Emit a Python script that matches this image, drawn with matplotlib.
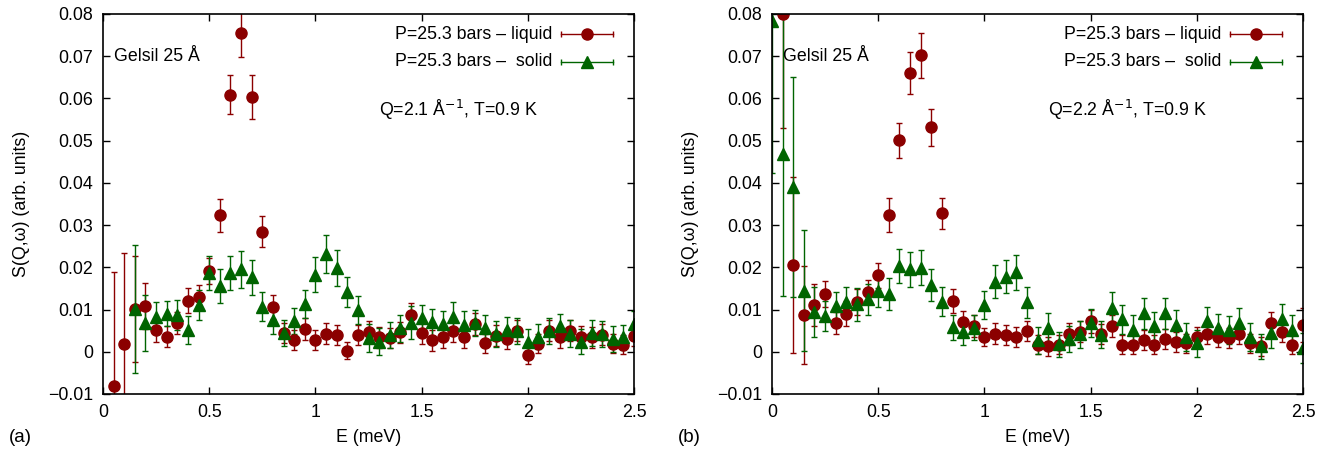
import matplotlib

matplotlib.use("Agg")
import matplotlib.pyplot as plt  # noqa: E402

plt.rcParams["font.family"] = ["Liberation Sans", "DejaVu Sans"]

RED = "#8b0000"
GREEN = "#006400"
FS = 12.8

# ---- data ----------------------------------------------------------------
# panel (a): Q = 2.1 1/A
E_liq_a = [0.05, 0.10, 0.15, 0.20, 0.25, 0.30, 0.35, 0.40, 0.45, 0.50,
           0.55, 0.60, 0.65, 0.70, 0.75, 0.80, 0.85, 0.90, 0.95, 1.00,
           1.05, 1.10, 1.15, 1.20, 1.25, 1.30, 1.35, 1.40, 1.45, 1.50,
           1.55, 1.60, 1.65, 1.70, 1.75, 1.80, 1.85, 1.90, 1.95, 2.00,
           2.05, 2.10, 2.15, 2.20, 2.25, 2.30, 2.35, 2.40, 2.45, 2.50]
S_liq_a = [-0.0082, 0.0019, 0.0101, 0.0109, 0.0052, 0.0036, 0.0069, 0.0121, 0.0130, 0.0191,
           0.0323, 0.0609, 0.0754, 0.0603, 0.0284, 0.0106, 0.0044, 0.0028, 0.0054, 0.0028,
           0.0043, 0.0040, 0.0003, 0.0039, 0.0048, 0.0034, 0.0032, 0.0046, 0.0087, 0.0044,
           0.0027, 0.0035, 0.0050, 0.0034, 0.0065, 0.0020, 0.0038, 0.0030, 0.0050, -0.0007,
           0.0019, 0.0050, 0.0034, 0.0050, 0.0036, 0.0034, 0.0040, 0.0019, 0.0017, 0.0038]
dS_liq_a = [0.0270, 0.0216, 0.0125, 0.0054, 0.0028, 0.0024, 0.0026, 0.0030, 0.0027, 0.0030,
            0.0040, 0.0047, 0.0057, 0.0052, 0.0037, 0.0028, 0.0024, 0.0024, 0.0026, 0.0023,
            0.0024, 0.0024, 0.0019, 0.0024, 0.0025, 0.0024, 0.0024, 0.0025, 0.0029, 0.0025,
            0.0024, 0.0025, 0.0026, 0.0024, 0.0026, 0.0023, 0.0025, 0.0024, 0.0025, 0.0022,
            0.0023, 0.0025, 0.0024, 0.0025, 0.0024, 0.0024, 0.0025, 0.0022, 0.0022, 0.0024]

E_sol_a = [0.15, 0.20, 0.25, 0.30, 0.35, 0.40, 0.45, 0.50, 0.55, 0.60,
           0.65, 0.70, 0.75, 0.80, 0.85, 0.90, 0.95, 1.00, 1.05, 1.10,
           1.15, 1.20, 1.25, 1.30, 1.35, 1.40, 1.45, 1.50, 1.55, 1.60,
           1.65, 1.70, 1.75, 1.80, 1.85, 1.90, 1.95, 2.00, 2.05, 2.10,
           2.15, 2.20, 2.25, 2.30, 2.35, 2.40, 2.45, 2.50]
S_sol_a = [0.0101, 0.0068, 0.0083, 0.0090, 0.0087, 0.0052, 0.0111, 0.0187, 0.0156, 0.0187,
           0.0195, 0.0176, 0.0107, 0.0076, 0.0044, 0.0072, 0.0113, 0.0183, 0.0231, 0.0199,
           0.0141, 0.0099, 0.0032, 0.0024, 0.0040, 0.0056, 0.0069, 0.0080, 0.0070, 0.0065,
           0.0083, 0.0064, 0.0069, 0.0057, 0.0042, 0.0052, 0.0050, 0.0023, 0.0036, 0.0050,
           0.0060, 0.0043, 0.0024, 0.0044, 0.0042, 0.0030, 0.0034, 0.0065]
dS_sol_a = [0.0152, 0.0066, 0.0036, 0.0030, 0.0035, 0.0033, 0.0035, 0.0040, 0.0040, 0.0040,
            0.0043, 0.0042, 0.0035, 0.0033, 0.0031, 0.0031, 0.0033, 0.0041, 0.0045, 0.0043,
            0.0035, 0.0034, 0.0033, 0.0032, 0.0031, 0.0032, 0.0039, 0.0031, 0.0032, 0.0032,
            0.0034, 0.0032, 0.0031, 0.0031, 0.0031, 0.0031, 0.0031, 0.0030, 0.0030, 0.0031,
            0.0030, 0.0032, 0.0030, 0.0031, 0.0030, 0.0030, 0.0030, 0.0031]

# panel (b): Q = 2.2 1/A
E_liq_b = E_liq_a
S_liq_b = [0.0799, 0.0206, 0.0086, 0.0111, 0.0137, 0.0068, 0.0090, 0.0117, 0.0141, 0.0181,
           0.0324, 0.0501, 0.0660, 0.0702, 0.0532, 0.0328, 0.0120, 0.0070, 0.0061, 0.0035,
           0.0043, 0.0040, 0.0035, 0.0050, 0.0017, 0.0013, 0.0017, 0.0042, 0.0048, 0.0072,
           0.0042, 0.0061, 0.0017, 0.0017, 0.0028, 0.0017, 0.0030, 0.0023, 0.0020, 0.0035,
           0.0042, 0.0035, 0.0032, 0.0042, 0.0020, 0.0013, 0.0068, 0.0048, 0.0017, 0.0064]
dS_liq_b = [0.0270, 0.0208, 0.0116, 0.0050, 0.0031, 0.0026, 0.0030, 0.0031, 0.0028, 0.0030,
            0.0040, 0.0042, 0.0050, 0.0053, 0.0044, 0.0037, 0.0028, 0.0026, 0.0026, 0.0022,
            0.0024, 0.0024, 0.0023, 0.0024, 0.0023, 0.0023, 0.0023, 0.0025, 0.0025, 0.0027,
            0.0024, 0.0025, 0.0023, 0.0023, 0.0024, 0.0023, 0.0024, 0.0023, 0.0023, 0.0024,
            0.0024, 0.0024, 0.0024, 0.0024, 0.0023, 0.0023, 0.0026, 0.0025, 0.0023, 0.0040]

E_sol_b = [0.00] + E_liq_a
S_sol_b = [0.0784, 0.0468, 0.0390, 0.0145, 0.0095, 0.0085, 0.0109, 0.0118, 0.0113, 0.0124,
           0.0144, 0.0137, 0.0203, 0.0195, 0.0199, 0.0158, 0.0119, 0.0058, 0.0046, 0.0057,
           0.0111, 0.0166, 0.0178, 0.0188, 0.0117, 0.0027, 0.0057, 0.0018, 0.0031, 0.0042,
           0.0068, 0.0040, 0.0103, 0.0077, 0.0052, 0.0091, 0.0060, 0.0091, 0.0064, 0.0036,
           0.0020, 0.0072, 0.0056, 0.0052, 0.0069, 0.0035, 0.0013, 0.0044, 0.0077, 0.0052,
           0.0009]
dS_sol_b = [0.0360, 0.0336, 0.0260, 0.0143, 0.0059, 0.0036, 0.0033, 0.0036, 0.0039, 0.0037,
            0.0037, 0.0037, 0.0040, 0.0041, 0.0041, 0.0038, 0.0034, 0.0030, 0.0030, 0.0030,
            0.0033, 0.0039, 0.0039, 0.0041, 0.0036, 0.0032, 0.0034, 0.0030, 0.0031, 0.0032,
            0.0033, 0.0032, 0.0038, 0.0034, 0.0034, 0.0036, 0.0034, 0.0036, 0.0035, 0.0033,
            0.0032, 0.0034, 0.0033, 0.0033, 0.0034, 0.0032, 0.0030, 0.0034, 0.0037, 0.0035,
            0.0035]

LABELS = ["P=25.3 bars \u2013 liquid", "P=25.3 bars \u2013  solid"]
XTICKS = [0, 0.5, 1, 1.5, 2, 2.5]
YTICKS = [-0.01, 0, 0.01, 0.02, 0.03, 0.04, 0.05, 0.06, 0.07, 0.08]

PANELS = [
    ("(a)", "Q=2.1 \u00c5$^{-1}$, T=0.9 K", (E_liq_a, S_liq_a, dS_liq_a), (E_sol_a, S_sol_a, dS_sol_a)),
    ("(b)", "Q=2.2 \u00c5$^{-1}$, T=0.9 K", (E_liq_b, S_liq_b, dS_liq_b), (E_sol_b, S_sol_b, dS_sol_b)),
]


def legend_row(ax, y, label, color, marker):
    ax.text(0.846, y, label, transform=ax.transAxes, ha="right", va="center", fontsize=FS)
    ax.plot([0.862, 0.960], [y, y], color=color, lw=1.0, transform=ax.transAxes, clip_on=False)
    ax.plot([0.862, 0.960], [y, y], ls="none", marker="|", ms=5, mew=1.0, color=color,
            transform=ax.transAxes, clip_on=False)
    ax.plot([0.911], [y], ls="none", marker=marker, ms=8, color=color,
            transform=ax.transAxes, clip_on=False)


def fmt(v):
    return "0" if abs(v) < 1e-12 else ("%g" % v).replace("-", "\u2212")


def main():
    fig = plt.figure(figsize=(13.31, 4.55), dpi=100)
    W, H = 1331, 455
    lefts = [103, 772]
    for (tag, qtext, liq, sol), x0 in zip(PANELS, lefts):
        ax = fig.add_axes([x0 / W, 1 - 394 / H, 531 / W, 380 / H])
        ax.errorbar(*liq[:2], yerr=liq[2], fmt="o", ms=8, color=RED, ecolor=RED,
                    elinewidth=1.0, capsize=2.2, capthick=1.0)
        ax.errorbar(*sol[:2], yerr=sol[2], fmt="^", ms=8, color=GREEN, ecolor=GREEN,
                    elinewidth=1.0, capsize=2.2, capthick=1.0)
        ax.set_xlim(0, 2.5)
        ax.set_ylim(-0.01, 0.08)
        ax.set_xticks(XTICKS)
        ax.set_xticklabels([fmt(v) for v in XTICKS])
        ax.set_yticks(YTICKS)
        ax.set_yticklabels([fmt(v) for v in YTICKS])
        ax.tick_params(direction="in", top=True, right=True, length=5, width=1.0,
                       labelsize=FS, pad=7)
        for sp in ax.spines.values():
            sp.set_linewidth(1.2)
        ax.set_xlabel("E (meV)", fontsize=FS, labelpad=6)
        ax.set_ylabel("S(Q,\u03c9) (arb. units)", fontsize=FS, labelpad=13)

        ax.text(0.02, 0.889, "Gelsil 25 \u00c5", transform=ax.transAxes, ha="left", va="center",
                fontsize=FS)
        ax.text(0.519, 0.747, qtext, transform=ax.transAxes, ha="left", va="center", fontsize=FS)
        legend_row(ax, 0.947, LABELS[0], RED, "o")
        legend_row(ax, 0.874, LABELS[1], GREEN, "^")

        fig.text((x0 - 94) / W, 1 - 438 / H, tag, ha="left", va="center", fontsize=13.5)

    fig.savefig("out.png", dpi=100)
    plt.close(fig)


if __name__ == "__main__":
    main()
